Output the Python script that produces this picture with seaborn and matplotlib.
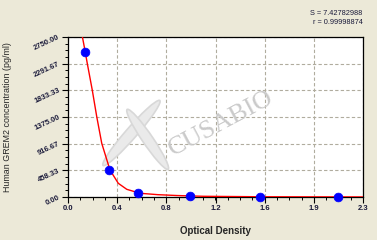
import matplotlib
matplotlib.use("Agg")
import matplotlib.pyplot as plt
import seaborn as sns
import pandas as pd
from matplotlib.ticker import FixedLocator, AutoMinorLocator
from matplotlib.patches import Ellipse

# ---- data ----
od_points = [0.133, 0.320, 0.546, 0.954, 1.499, 2.103]
conc_points = [2500, 460, 70, 10, 3, 0]

curve_od = [0.107, 0.133, 0.150, 0.189, 0.224, 0.263, 0.327, 0.392, 0.458, 0.561, 0.700, 0.850, 1.055, 1.500, 2.300]
curve_conc = [2813, 2509, 2298, 1839, 1380, 923, 464, 235, 132, 64, 40, 25, 12, 4, 1]

x_ticks = [0.0, 0.3833, 0.7667, 1.15, 1.5333, 1.9167, 2.3]
x_tick_labels = ["0.0", "0.4", "0.8", "1.2", "1.6", "1.9", "2.3"]
y_ticks = [0.0, 458.33, 916.67, 1375.0, 1833.33, 2291.67, 2750.0]
y_tick_labels = ["0.00", "458.33", "916.67", "1375.00", "1833.33", "2291.67", "2750.00"]

s_text = "S = 7.42782988"
r_text = "r = 0.99998874"
x_label = "Optical Density"
y_label = "Human GREM2 concentration (pg/ml)"

pts = pd.DataFrame({"od": od_points, "conc": conc_points})
crv = pd.DataFrame({"od": curve_od, "conc": curve_conc})

sns.set_style("white")
plt.rcParams["font.family"] = ["Liberation Sans", "DejaVu Sans"]

bg = "#ECE9D8"
fig = plt.figure(figsize=(3.77, 2.40), dpi=100, facecolor=bg)
ax = fig.add_axes([0.1804, 0.1792, 0.7825, 0.6667])
ax.set_facecolor("white")

ax.set_xlim(0, 2.3)
ax.set_ylim(0, 2750)

# grid
ax.grid(True, which="major", color="#B0AC9E", linestyle=(0, (3, 2)), linewidth=0.8)
ax.set_axisbelow(True)

# watermark
ax.text(0.52, 0.46, "CUSABIO", transform=ax.transAxes, fontsize=19,
        family=["Liberation Serif", "DejaVu Serif"], color="#CACACA",
        rotation=28, ha="center", va="center", zorder=1)
for (cx, cy, w, h, ang) in [(0.215, 0.40, 0.045, 0.45, -25), (0.27, 0.36, 0.04, 0.40, 20)]:
    ax.add_patch(Ellipse((cx, cy), w, h, angle=ang, transform=ax.transAxes,
                         facecolor="#EAEAEA", edgecolor="#D8D8D8", linewidth=1.2, zorder=1))

sns.lineplot(data=crv, x="od", y="conc", ax=ax, color="red", linewidth=1.0,
             sort=False, zorder=3, estimator=None)
sns.scatterplot(data=pts, x="od", y="conc", ax=ax, color="#0000FF", s=40,
                edgecolor="#0000FF", linewidth=0.5, zorder=4, clip_on=False)

ax.xaxis.set_major_locator(FixedLocator(x_ticks))
ax.set_xticklabels(x_tick_labels, fontsize=5.5, fontweight="bold", color="#1a1a3a")
ax.yaxis.set_major_locator(FixedLocator(y_ticks))
ax.set_yticklabels(y_tick_labels, fontsize=5.5, fontweight="bold", color="#1a1a3a",
                   rotation=25, rotation_mode="anchor", ha="right", va="center")
ax.xaxis.set_minor_locator(AutoMinorLocator(4))
ax.yaxis.set_minor_locator(AutoMinorLocator(4))
ax.tick_params(which="major", direction="out", length=4, width=0.8, color="black",
               bottom=True, left=True, pad=2)
ax.tick_params(which="minor", direction="out", length=2, width=0.7, color="black",
               bottom=True, left=True)

for sp in ax.spines.values():
    sp.set_color("black")
    sp.set_linewidth(0.9)

ax.set_xlabel(x_label, fontsize=7, fontweight="bold", labelpad=10)
ax.set_ylabel(y_label, fontsize=6.4)
ax.yaxis.set_label_coords(-0.19, 0.5)

fig.text(0.962, 0.945, s_text, ha="right", va="center", fontsize=5.3, color="#1a1a3a")
fig.text(0.962, 0.905, r_text, ha="right", va="center", fontsize=5.3, color="#1a1a3a")

fig.savefig("out.png", dpi=100, facecolor=bg)
